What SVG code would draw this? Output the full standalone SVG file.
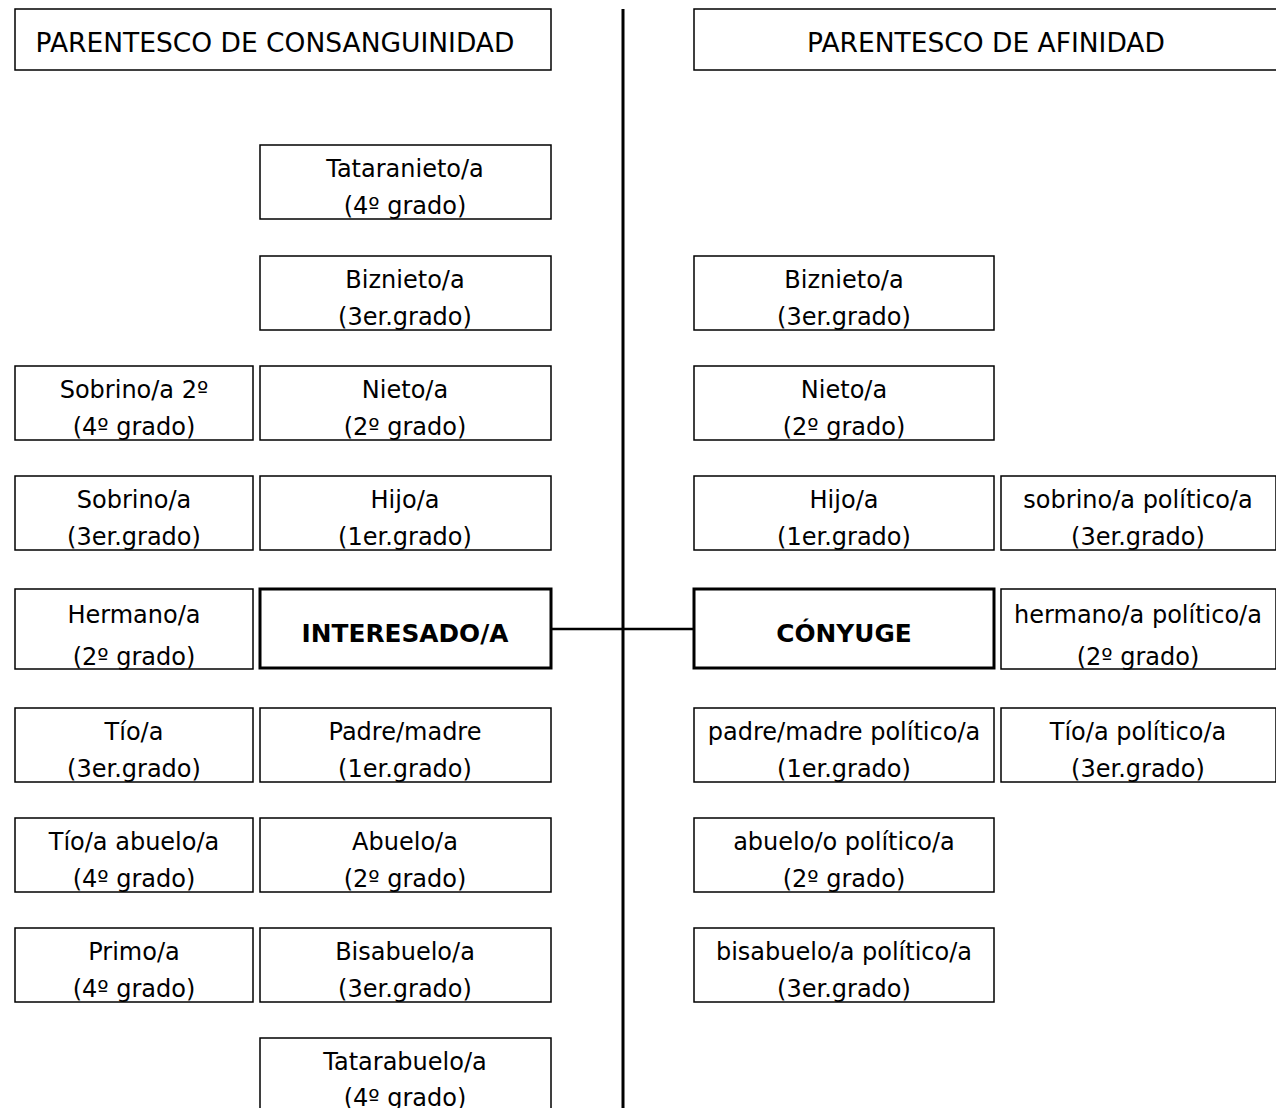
<svg xmlns="http://www.w3.org/2000/svg" width="1276" height="1108" viewBox="0 0 1276 1108">
<style>
.b{fill:#fff;stroke:#000;stroke-width:1.5}
.bb{fill:#fff;stroke:#000;stroke-width:3}
text{font-family:"DejaVu Sans","Verdana",sans-serif;font-size:24px;fill:#000;text-anchor:middle}
.h{font-size:26.5px}
.bt{font-weight:bold;font-size:24.8px}
.ln{stroke:#000;stroke-width:2.5;fill:none}
.v{stroke:#000;stroke-width:3;fill:none}
</style>
<rect width="1276" height="1108" fill="#fff"/>
<g id="connectors">
<line class="v" x1="623" y1="9" x2="623" y2="1108"/>
<line class="ln" x1="551" y1="629" x2="694" y2="629"/>
</g>
<g id="hdr-consanguinidad"><rect class="b" x="15" y="9" width="536" height="61"/><text class="h" x="275" y="52">PARENTESCO DE CONSANGUINIDAD</text></g>
<g id="hdr-afinidad"><rect class="b" x="694" y="9" width="590" height="61"/><text class="h" x="986" y="52">PARENTESCO DE AFINIDAD</text></g>

<g id="tataranieto"><rect class="b" x="260" y="145" width="291" height="74"/><text x="405" y="177">Tataranieto/a</text><text x="405" y="214">(4º grado)</text></g>
<g id="biznieto"><rect class="b" x="260" y="256" width="291" height="74"/><text x="405" y="288">Biznieto/a</text><text x="405" y="325">(3er.grado)</text></g>
<g id="sobrino2"><rect class="b" x="15" y="366" width="238" height="74"/><text x="134" y="398">Sobrino/a 2º</text><text x="134" y="435">(4º grado)</text></g>
<g id="nieto"><rect class="b" x="260" y="366" width="291" height="74"/><text x="405" y="398">Nieto/a</text><text x="405" y="435">(2º grado)</text></g>
<g id="sobrino"><rect class="b" x="15" y="476" width="238" height="74"/><text x="134" y="508">Sobrino/a</text><text x="134" y="545">(3er.grado)</text></g>
<g id="hijo"><rect class="b" x="260" y="476" width="291" height="74"/><text x="405" y="508">Hijo/a</text><text x="405" y="545">(1er.grado)</text></g>
<g id="hermano"><rect class="b" x="15" y="589" width="238" height="80"/><text x="134" y="623">Hermano/a</text><text x="134" y="665">(2º grado)</text></g>
<g id="interesado"><rect class="bb" x="260" y="589" width="291" height="79"/><text class="bt" x="405" y="642">INTERESADO/A</text></g>
<g id="tio"><rect class="b" x="15" y="708" width="238" height="74"/><text x="134" y="740">Tío/a</text><text x="134" y="777">(3er.grado)</text></g>
<g id="padre"><rect class="b" x="260" y="708" width="291" height="74"/><text x="405" y="740">Padre/madre</text><text x="405" y="777">(1er.grado)</text></g>
<g id="tioabuelo"><rect class="b" x="15" y="818" width="238" height="74"/><text x="134" y="850">Tío/a abuelo/a</text><text x="134" y="887">(4º grado)</text></g>
<g id="abuelo"><rect class="b" x="260" y="818" width="291" height="74"/><text x="405" y="850">Abuelo/a</text><text x="405" y="887">(2º grado)</text></g>
<g id="primo"><rect class="b" x="15" y="928" width="238" height="74"/><text x="134" y="960">Primo/a</text><text x="134" y="997">(4º grado)</text></g>
<g id="bisabuelo"><rect class="b" x="260" y="928" width="291" height="74"/><text x="405" y="960">Bisabuelo/a</text><text x="405" y="997">(3er.grado)</text></g>
<g id="tatarabuelo"><rect class="b" x="260" y="1038" width="291" height="80"/><text x="405" y="1070">Tatarabuelo/a</text><text x="405" y="1106">(4º grado)</text></g>

<g id="biznieto-af"><rect class="b" x="694" y="256" width="300" height="74"/><text x="844" y="288">Biznieto/a</text><text x="844" y="325">(3er.grado)</text></g>
<g id="nieto-af"><rect class="b" x="694" y="366" width="300" height="74"/><text x="844" y="398">Nieto/a</text><text x="844" y="435">(2º grado)</text></g>
<g id="hijo-af"><rect class="b" x="694" y="476" width="300" height="74"/><text x="844" y="508">Hijo/a</text><text x="844" y="545">(1er.grado)</text></g>
<g id="sobrino-pol"><rect class="b" x="1001" y="476" width="275" height="74"/><text x="1138" y="508">sobrino/a político/a</text><text x="1138" y="545">(3er.grado)</text></g>
<g id="conyuge"><rect class="bb" x="694" y="589" width="300" height="79"/><text class="bt" x="844" y="642">CÓNYUGE</text></g>
<g id="hermano-pol"><rect class="b" x="1001" y="589" width="275" height="80"/><text x="1138" y="623">hermano/a político/a</text><text x="1138" y="665">(2º grado)</text></g>
<g id="padre-pol"><rect class="b" x="694" y="708" width="300" height="74"/><text x="844" y="740">padre/madre político/a</text><text x="844" y="777">(1er.grado)</text></g>
<g id="tio-pol"><rect class="b" x="1001" y="708" width="275" height="74"/><text x="1138" y="740">Tío/a político/a</text><text x="1138" y="777">(3er.grado)</text></g>
<g id="abuelo-pol"><rect class="b" x="694" y="818" width="300" height="74"/><text x="844" y="850">abuelo/o político/a</text><text x="844" y="887">(2º grado)</text></g>
<g id="bisabuelo-pol"><rect class="b" x="694" y="928" width="300" height="74"/><text x="844" y="960">bisabuelo/a político/a</text><text x="844" y="997">(3er.grado)</text></g>
</svg>
